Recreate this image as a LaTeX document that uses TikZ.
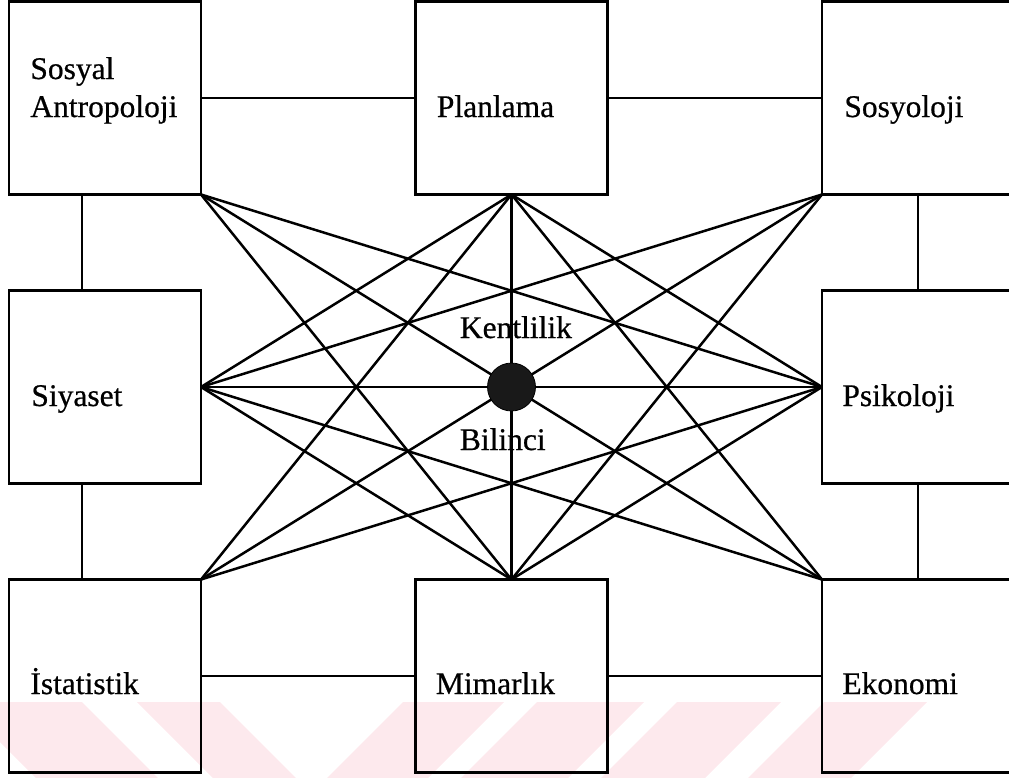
\documentclass[tikz,border=0pt]{standalone}
\usepackage{fontspec}
\setmainfont[FakeBold=0.6]{Liberation Serif}
\usepackage{xcolor}
\usepackage{tikz}
\usetikzlibrary{positioning}
\definecolor{filigran}{RGB}{253,233,237}

\begin{document}
\begin{tikzpicture}
	\tikzset{kutu/.style={rectangle,draw=black,line width=1.35pt,outer sep=0pt,
			inner sep=0pt,minimum width=96pt,minimum height=96.5pt},
		yazi/.style={anchor=base west,inner sep=0pt,align=left,
			font=\fontsize{15.75}{19}\selectfont},
		merkez/.style={circle,draw=black,fill=black!90,inner sep=0pt,minimum size=24pt},
		bag/.style={line width=1.25pt}}

\useasboundingbox (0,0) rectangle (504.5pt,-389pt);
\clip (0,0) rectangle (504.5pt,-389pt);

% soluk filigran
\begin{scope}[x=0.5pt,y=-0.5pt]
\fill[filigran] (-40,702) -- (82,702) -- (158,778) -- (36,778) -- cycle;
\fill[filigran] (137,702) -- (220,702) -- (296,778) -- (213,778) -- cycle;
\fill[filigran] (403,702) -- (504,702) -- (428,778) -- (327,778) -- cycle;
\fill[filigran] (537,702) -- (644,702) -- (568,778) -- (461,778) -- cycle;
\fill[filigran] (677,702) -- (781,702) -- (705,778) -- (601,778) -- cycle;
\fill[filigran] (824,702) -- (927,702) -- (851,778) -- (748,778) -- cycle;
\end{scope}

\node[kutu] (antro) at (52.5pt,-49pt) {};
\node[kutu] (plan) [right = 107.25pt of antro] {};
\node[kutu] (sosyo) [right = 107.25pt of plan] {};
\node[kutu] (siyaset) [below = 48pt of antro] {};
\node[kutu] (psiko) [below = 48pt of sosyo] {};
\node[kutu] (ist) [below = 48pt of siyaset] {};
\node[kutu] (mimar) [right = 107.25pt of ist] {};
\node[kutu] (eko) [right = 107.25pt of mimar] {};

% kutular arasi
\draw[kutu] (antro) -- (plan);
\draw[kutu] (plan) -- (sosyo);
\draw[kutu] (ist) -- (mimar);
\draw[kutu] (mimar) -- (eko);
\draw[kutu] ([xshift=-11.5pt]antro.south) -- ([xshift=-11.5pt]siyaset.north);
\draw[kutu] ([xshift=-11.5pt]siyaset.south) -- ([xshift=-11.5pt]ist.north);
\draw[kutu] (sosyo) -- (psiko);
\draw[kutu] (psiko) -- (eko);

% capraz baglar
\draw[bag] (antro.south east) -- (psiko.west);
\draw[bag] (antro.south east) -- (eko.north west);
\draw[bag] (antro.south east) -- (mimar.north);
\draw[bag] (plan.south) -- (siyaset.east);
\draw[bag] (plan.south) -- (ist.north east);
\draw[bag] (plan.south) -- (mimar.north);
\draw[bag] (plan.south) -- (eko.north west);
\draw[bag] (plan.south) -- (psiko.west);
\draw[bag] (sosyo.south west) -- (siyaset.east);
\draw[bag] (sosyo.south west) -- (ist.north east);
\draw[bag] (sosyo.south west) -- (mimar.north);
\draw[bag] (siyaset.east) -- (psiko.west);
\draw[bag] (siyaset.east) -- (eko.north west);
\draw[bag] (siyaset.east) -- (mimar.north);
\draw[bag] (psiko.west) -- (ist.north east);
\draw[bag] (psiko.west) -- (mimar.north);

\node[merkez] (merkez) at (plan.south |- siyaset.east) {};

\node[yazi] (antroyazi) at ([xshift=10.5pt,yshift=-9.5pt]antro.west) {Sosyal\\Antropoloji};
\node[yazi] (planyazi) at ([xshift=10.5pt,yshift=-9.5pt]plan.west) {Planlama};
\node[yazi] (sosyoyazi) at ([xshift=11pt,yshift=-9.5pt]sosyo.west) {Sosyoloji};
\node[yazi] (siyasetyazi) at ([xshift=11pt,yshift=-9.5pt]siyaset.west) {Siyaset};
\node[yazi] (psikoyazi) at ([xshift=10pt,yshift=-9.5pt]psiko.west) {Psikoloji};
\node[yazi] (istyazi) at ([xshift=10.5pt,yshift=-9pt]ist.west) {İstatistik};
\node[yazi] (mimaryazi) at ([xshift=10pt,yshift=-9pt]mimar.west) {Mimarlık};
\node[yazi] (ekoyazi) at ([xshift=10pt,yshift=-9pt]eko.west) {Ekonomi};
\node[yazi] (kent) at ([xshift=-26pt,yshift=24.5pt]merkez.center) {Kentlilik};
\node[yazi] (bilinc) at ([xshift=-26pt,yshift=-31.5pt]merkez.center) {Bilinci};
\end{tikzpicture}
\end{document}
